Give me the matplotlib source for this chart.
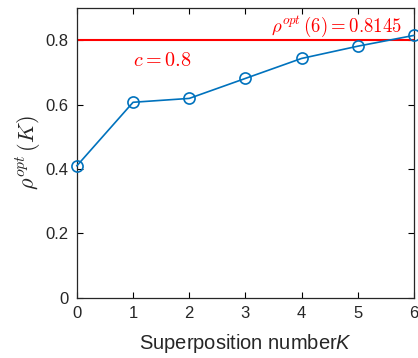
import matplotlib
matplotlib.use("Agg")
import matplotlib.pyplot as plt

plt.rcParams['font.family'] = ['Liberation Sans', 'DejaVu Sans']
plt.rcParams['mathtext.fontset'] = 'custom'
plt.rcParams['mathtext.it'] = 'Liberation Sans:italic'
plt.rcParams['mathtext.rm'] = 'Liberation Sans'

# data
K = [0, 1, 2, 3, 4, 5, 6]
rho_opt = [0.41, 0.607, 0.619, 0.681, 0.743, 0.781, 0.8145]
c_level = 0.8
x_ticks = [0, 1, 2, 3, 4, 5, 6]
y_ticks = [0, 0.2, 0.4, 0.6, 0.8]

fig = plt.figure(figsize=(4.18, 3.58), dpi=100)
ax = fig.add_axes([0.184, 0.168, 0.806, 0.810])

ax.axhline(c_level, color="#FF0000", lw=1.5, zorder=2)
ax.plot(K, rho_opt, "-o", color="#0072BD", lw=1.2, ms=8,
        mfc="none", mew=1.2, zorder=3, clip_on=False)

ax.text(1.51, 0.738, r"$c=0.8$", color="#FF0000", fontsize=14.5,
        ha="center", va="center", math_fontfamily="cm")
ax.text(4.62, 0.842, r"$\rho^{opt}\,(6)=0.8145$", color="#FF0000", fontsize=13.5,
        ha="center", va="center", math_fontfamily="cm")

ax.set_xlim(0, 6)
ax.set_ylim(0, 0.9)
ax.set_xticks(x_ticks)
ax.set_yticks(y_ticks)
ax.set_yticklabels(["0", "0.2", "0.4", "0.6", "0.8"])
ax.tick_params(direction="in", top=True, right=True, length=4, width=0.8,
               labelsize=12, labelcolor="#262626", pad=6)
for s in ax.spines.values():
    s.set_color("#262626")
    s.set_linewidth(0.9)

ax.set_xlabel(r"Superposition number$K$", fontsize=14.5, color="#262626",
              labelpad=8)
ax.set_ylabel(r"$\rho^{opt}\,(K)$", fontsize=16, color="#262626",
              math_fontfamily="cm", labelpad=2)

fig.savefig("out.png", dpi=100)
